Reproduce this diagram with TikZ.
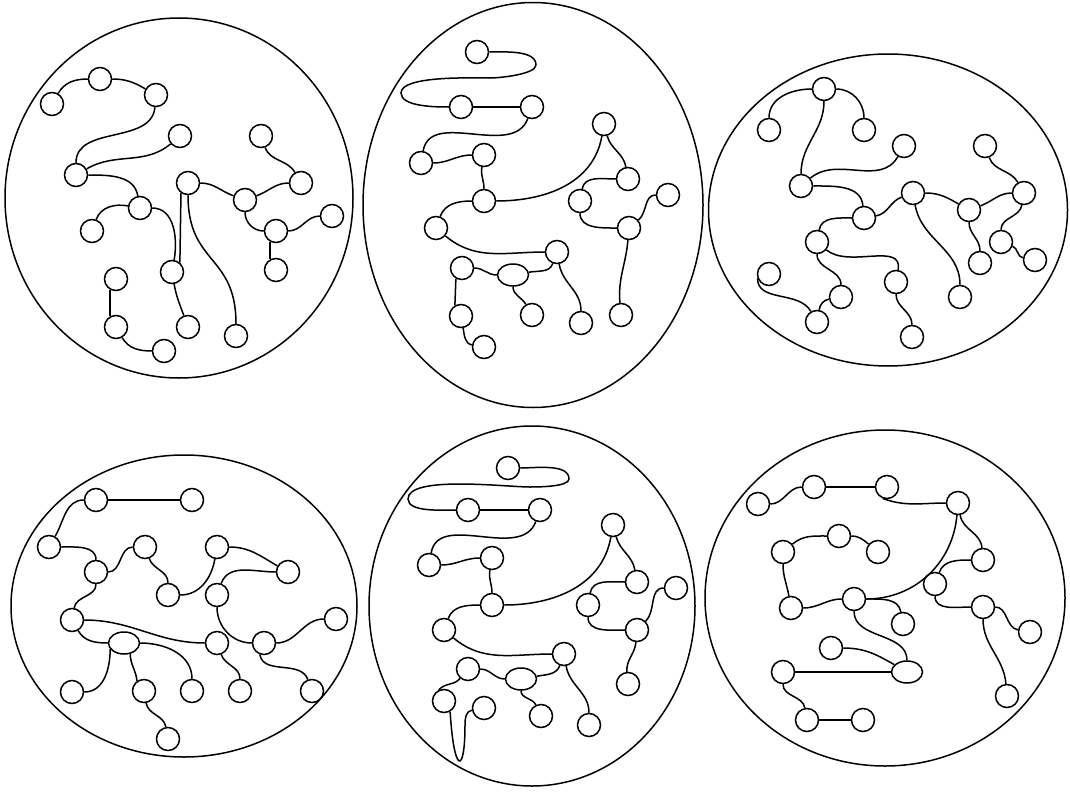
\documentclass[tikz,border=0pt]{standalone}
\usepackage{tikz}
\usetikzlibrary{shapes.geometric}

\begin{document}
\begin{tikzpicture}[x=1pt, y=1pt, line width=1.5pt,
    dot/.style={circle, draw, minimum size=23pt, inner sep=0pt},
    blob/.style={ellipse, draw, minimum width=31pt, minimum height=22pt, inner sep=0pt},
    cell/.style={ellipse, draw, inner sep=0pt},
    link/.style={line width=1.5pt}]

    \useasboundingbox (0,0) rectangle (1070,-792);

    \node [cell, minimum width=348pt, minimum height=360pt] (cell1) at (179,-198) {};
    \node [cell, minimum width=340pt, minimum height=405pt] (cell2) at (533,-205) {};
    \node [cell, minimum width=359pt, minimum height=312pt] (cell3) at (888,-210) {};
    \node [cell, minimum width=346pt, minimum height=302pt] (cell4) at (184,-606) {};
    \node [cell, minimum width=326pt, minimum height=360pt] (cell5) at (532,-606) {};
    \node [cell, minimum width=360pt, minimum height=336pt] (cell6) at (885,-598) {};

    \node [dot] (p1a) at (52,-104) {};
    \node [dot] (p1b) at (100,-79) {};
    \node [dot] (p1c) at (156,-95) {};
    \node [dot] (p1d) at (180,-136) {};
    \node [dot] (p1e) at (76,-175) {};
    \node [dot] (p1f) at (140,-208) {};
    \node [dot] (p1g) at (92,-231) {};
    \node [dot] (p1h) at (188,-183) {};
    \node [dot] (p1i) at (261,-136) {};
    \node [dot] (p1j) at (301,-183) {};
    \node [dot] (p1k) at (245,-200) {};
    \node [dot] (p1l) at (276,-231) {};
    \node [dot] (p1m) at (332,-216) {};
    \node [dot] (p1n) at (276,-270) {};
    \node [dot] (p1o) at (116,-279) {};
    \node [dot] (p1p) at (172,-272) {};
    \node [dot] (p1q) at (116,-327) {};
    \node [dot] (p1r) at (164,-351) {};
    \node [dot] (p1s) at (188,-327) {};
    \node [dot] (p1t) at (236,-336) {};

    \draw [link] (p1a) to[out=60,in=180] (p1b);
    \draw [link] (p1b) to[out=0,in=150] (p1c);
    \draw [link] (p1c) to[out=-95,in=90] (p1e);
    \draw [link] (p1e) to[out=30,in=-140] (p1d);
    \draw [link] (p1e) to[out=0,in=100] (p1f);
    \draw [link] (p1f) to[out=170,in=70] (p1g);
    \draw [link] (p1f) to[out=0,in=80] (p1p);
    \draw [link] (p1h.-125) -- (p1p.50);
    \draw [link] (p1h) to[out=-90,in=90,looseness=1.3] (p1t);
    \draw [link] (p1h) to[out=0,in=160] (p1k);
    \draw [link] (p1k) to[out=20,in=180] (p1j);
    \draw [link] (p1i) to[out=-70,in=120] (p1j);
    \draw [link] (p1k) to[out=-90,in=180] (p1l);
    \draw [link] (p1l) to[out=0,in=180] (p1m);
    \draw [link] (p1l.240) -- (p1n.120);
    \draw [link] (p1o.240) -- (p1q.120);
    \draw [link] (p1q) to[out=-60,in=180] (p1r);
    \draw [link] (p1p) to[out=-80,in=110] (p1s);

    \node [dot] (p2a) at (477,-52) {};
    \node [dot] (p2b) at (461,-107) {};
    \node [dot] (p2c) at (532,-107) {};
    \node [dot] (p2d) at (604,-124) {};
    \node [dot] (p2e) at (421,-163) {};
    \node [dot] (p2f) at (484,-155) {};
    \node [dot] (p2g) at (484,-201) {};
    \node [dot] (p2h) at (628,-179) {};
    \node [dot] (p2i) at (580,-201) {};
    \node [dot] (p2j) at (668,-195) {};
    \node [dot] (p2k) at (436,-228) {};
    \node [dot] (p2l) at (629,-228) {};
    \node [dot] (p2m) at (557,-252) {};
    \node [dot] (p2n) at (462,-268) {};
    \node [blob] (p2o) at (513,-275) {};
    \node [dot] (p2p) at (461,-316) {};
    \node [dot] (p2q) at (532,-315) {};
    \node [dot] (p2r) at (581,-323) {};
    \node [dot] (p2s) at (621,-315) {};
    \node [dot] (p2t) at (484,-347) {};
    \coordinate (p2tr) at (536,-65);
    \coordinate (p2tm) at (490,-78);
    \coordinate (p2tl) at (401,-93);

    \draw [link] (p2a) to[out=0,in=90,looseness=0.8] (p2tr) to[out=-90,in=0,looseness=0.5] (p2tm)
        to[out=180,in=90,looseness=0.5] (p2tl) to[out=-90,in=180,looseness=0.7] (p2b);
    \draw [link] (p2b) -- (p2c);
    \draw [link] (p2c) to[out=-110,in=80] (p2e);
    \draw [link] (p2e) to[out=0,in=180] (p2f);
    \draw [link] (p2f) to[out=-100,in=90] (p2g);
    \draw [link] (p2g) to[out=0,in=-100] (p2d);
    \draw [link] (p2g) to[out=180,in=70] (p2k);
    \draw [link] (p2k) to[out=-40,in=180] (p2m);
    \draw [link] (p2d) to[out=-75,in=100] (p2h);
    \draw [link] (p2h) to[out=180,in=80] (p2i);
    \draw [link] (p2i) to[out=-90,in=180] (p2l);
    \draw [link] (p2l) to[out=40,in=180] (p2j);
    \draw [link] (p2l) to[out=-95,in=95] (p2s);
    \draw [link] (p2m) to[out=-110,in=10] (p2o);
    \draw [link] (p2m) to[out=-80,in=90] (p2r);
    \draw [link] (p2n) to[out=0,in=180] (p2o);
    \draw [link] (p2n.240) -- (p2p.120);
    \draw [link] (p2o) to[out=-90,in=120] (p2q);
    \draw [link] (p2p) to[out=-80,in=170] (p2t);

    \node [dot] (p3a) at (824,-89) {};
    \node [dot] (p3b) at (769,-130) {};
    \node [dot] (p3c) at (864,-130) {};
    \node [dot] (p3d) at (904,-146) {};
    \node [dot] (p3e) at (801,-186) {};
    \node [dot] (p3f) at (864,-218) {};
    \node [dot] (p3g) at (913,-193) {};
    \node [dot] (p3h) at (985,-146) {};
    \node [dot] (p3i) at (1024,-193) {};
    \node [dot] (p3j) at (969,-210) {};
    \node [dot] (p3k) at (817,-242) {};
    \node [dot] (p3l) at (1001,-242) {};
    \node [dot] (p3m) at (980,-263) {};
    \node [dot] (p3n) at (1035,-260) {};
    \node [dot] (p3o) at (769,-274) {};
    \node [dot] (p3p) at (841,-297) {};
    \node [dot] (p3q) at (896,-282) {};
    \node [dot] (p3r) at (960,-297) {};
    \node [dot] (p3s) at (817,-322) {};
    \node [dot] (p3t) at (912,-337) {};

    \draw [link] (p3a) to[out=180,in=90] (p3b);
    \draw [link] (p3a) to[out=0,in=90] (p3c);
    \draw [link] (p3a) to[out=-90,in=90] (p3e);
    \draw [link] (p3e) to[out=40,in=-120] (p3d);
    \draw [link] (p3e) to[out=0,in=95] (p3f);
    \draw [link] (p3f) to[out=10,in=200] (p3g);
    \draw [link] (p3f) to[out=180,in=80] (p3k);
    \draw [link] (p3g) to[out=0,in=150] (p3j);
    \draw [link] (p3j) to[out=20,in=180] (p3i);
    \draw [link] (p3h) to[out=-70,in=120] (p3i);
    \draw [link] (p3i) to[out=-100,in=90] (p3l);
    \draw [link] (p3l) to[out=-20,in=170] (p3n);
    \draw [link] (p3j) to[out=-90,in=90] (p3m);
    \draw [link] (p3g) to[out=-80,in=90] (p3r);
    \draw [link] (p3k) to[out=-40,in=80] (p3q);
    \draw [link] (p3k) to[out=-90,in=90] (p3p);
    \draw [link] (p3q) to[out=-90,in=90] (p3t);
    \draw [link] (p3o.200) to[out=-90,in=120] (p3s);
    \draw [link] (p3s) to[out=80,in=190] (p3p);

    \node [dot] (p4a) at (96,-500) {};
    \node [dot] (p4b) at (192,-500) {};
    \node [dot] (p4c) at (49,-547) {};
    \node [dot] (p4d) at (145,-547) {};
    \node [dot] (p4e) at (217,-547) {};
    \node [dot] (p4f) at (96,-572) {};
    \node [dot] (p4g) at (288,-572) {};
    \node [dot] (p4h) at (168,-595) {};
    \node [dot] (p4i) at (217,-595) {};
    \node [dot] (p4j) at (72,-620) {};
    \node [dot] (p4k) at (336,-619) {};
    \node [blob] (p4l) at (124,-643) {};
    \node [dot] (p4m) at (217,-643) {};
    \node [dot] (p4n) at (264,-643) {};
    \node [dot] (p4o) at (72,-692) {};
    \node [dot] (p4p) at (144,-691) {};
    \node [dot] (p4q) at (192,-691) {};
    \node [dot] (p4r) at (240,-691) {};
    \node [dot] (p4s) at (312,-691) {};
    \node [dot] (p4t) at (168,-739) {};

    \draw [link] (p4a) -- (p4b);
    \draw [link] (p4a) to[out=180,in=60] (p4c);
    \draw [link] (p4c) to[out=0,in=90] (p4f);
    \draw [link] (p4f) to[out=0,in=180] (p4d);
    \draw [link] (p4d) to[out=-70,in=90] (p4h);
    \draw [link] (p4h) to[out=0,in=-100] (p4e);
    \draw [link] (p4e) to[out=0,in=150] (p4g);
    \draw [link] (p4g) to[out=180,in=70] (p4i);
    \draw [link] (p4f) to[out=-90,in=80] (p4j);
    \draw [link] (p4j) to[out=0,in=180] (p4m);
    \draw [link] (p4j) to[out=-60,in=180] (p4l);
    \draw [link] (p4l.204) to[out=-90,in=0] (p4o);
    \draw [link] (p4l.-60) to[out=-90,in=95] (p4p.125);
    \draw [link] (p4l) to[out=0,in=90] (p4q);
    \draw [link] (p4m) to[out=-70,in=90] (p4r);
    \draw [link] (p4i) to[out=-90,in=180] (p4n);
    \draw [link] (p4n) to[out=0,in=180] (p4k);
    \draw [link] (p4n.-110) to[out=-80,in=110] (p4s);
    \draw [link] (p4p) to[out=-80,in=100] (p4t);

    \node [dot] (p5a) at (508,-468) {};
    \node [dot] (p5b) at (468,-510) {};
    \node [dot] (p5c) at (540,-510) {};
    \node [dot] (p5d) at (613,-525) {};
    \node [dot] (p5e) at (429,-565) {};
    \node [dot] (p5f) at (492,-558) {};
    \node [dot] (p5g) at (492,-605) {};
    \node [dot] (p5h) at (637,-582) {};
    \node [dot] (p5i) at (588,-605) {};
    \node [dot] (p5j) at (676,-588) {};
    \node [dot] (p5k) at (444,-630) {};
    \node [dot] (p5l) at (637,-630) {};
    \node [dot] (p5m) at (564,-654) {};
    \node [dot] (p5n) at (468,-669) {};
    \node [blob] (p5o) at (521,-679) {};
    \node [dot] (p5p) at (444,-701) {};
    \node [dot] (p5q) at (484,-708) {};
    \node [dot] (p5r) at (541,-716) {};
    \node [dot] (p5s) at (589,-725) {};
    \node [dot] (p5t) at (628,-684) {};
    \coordinate (p5tr) at (569,-479);
    \coordinate (p5tm) at (530,-487);
    \coordinate (p5tl) at (408,-499);

    \draw [link] (p5a) to[out=0,in=90,looseness=0.8] (p5tr) to[out=-90,in=0,looseness=0.5] (p5tm)
        to[out=180,in=90,looseness=0.5] (p5tl) to[out=-90,in=180,looseness=0.7] (p5b);
    \draw [link] (p5b) -- (p5c);
    \draw [link] (p5c) to[out=-110,in=80] (p5e);
    \draw [link] (p5e) to[out=0,in=180] (p5f);
    \draw [link] (p5f) to[out=-100,in=90] (p5g);
    \draw [link] (p5g) to[out=0,in=-100] (p5d);
    \draw [link] (p5g) to[out=180,in=70] (p5k);
    \draw [link] (p5k) to[out=-40,in=180] (p5m);
    \draw [link] (p5d) to[out=-75,in=100] (p5h);
    \draw [link] (p5h) to[out=180,in=80] (p5i);
    \draw [link] (p5i) to[out=-90,in=180] (p5l);
    \draw [link] (p5l) to[out=45,in=180] (p5j);
    \draw [link] (p5l) to[out=-95,in=95] (p5t);
    \draw [link] (p5m) to[out=-110,in=10] (p5o);
    \draw [link] (p5m) to[out=-80,in=90] (p5s);
    \draw [link] (p5n) to[out=0,in=180] (p5o);
    \draw [link] (p5o) to[out=-90,in=115] (p5r);
    \draw [link] (p5n) to[out=-130,in=50] (p5p.115);
    \draw [link] (p5p.-60) .. controls (454,-775) and (465,-775) .. (465,-725) to[out=90,in=190] (p5q);

    \node [dot] (p6a) at (758,-504) {};
    \node [dot] (p6b) at (814,-487) {};
    \node [dot] (p6c) at (887,-487) {};
    \node [dot] (p6d) at (958,-503) {};
    \node [dot] (p6e) at (839,-536) {};
    \node [dot] (p6f) at (783,-552) {};
    \node [dot] (p6g) at (878,-552) {};
    \node [dot] (p6h) at (983,-560) {};
    \node [dot] (p6i) at (935,-584) {};
    \node [dot] (p6j) at (791,-608) {};
    \node [dot] (p6k) at (854,-599) {};
    \node [dot] (p6l) at (983,-607) {};
    \node [dot] (p6m) at (903,-624) {};
    \node [dot] (p6n) at (1030,-632) {};
    \node [dot] (p6o) at (831,-648) {};
    \node [blob] (p6p) at (907,-672) {};
    \node [dot] (p6q) at (783,-672) {};
    \node [dot] (p6r) at (1007,-696) {};
    \node [dot] (p6s) at (807,-720) {};
    \node [dot] (p6t) at (863,-720) {};

    \draw [link] (p6a) to[out=0,in=180] (p6b);
    \draw [link] (p6b) -- (p6c);
    \draw [link] (p6c.-110) to[out=-20,in=180] (p6d);
    \draw [link] (p6d) to[out=-95,in=0] (p6k);
    \draw [link] (p6d) to[out=-80,in=95] (p6h);
    \draw [link] (p6h) to[out=180,in=70] (p6i);
    \draw [link] (p6i) to[out=-90,in=180] (p6l);
    \draw [link] (p6l) to[out=0,in=170] (p6n);
    \draw [link] (p6l) to[out=-90,in=95] (p6r);
    \draw [link] (p6f) to[out=40,in=180] (p6e);
    \draw [link] (p6e) to[out=0,in=140] (p6g);
    \draw [link] (p6f) to[out=-90,in=100] (p6j);
    \draw [link] (p6j) to[out=0,in=180] (p6k);
    \draw [link] (p6k) to[out=0,in=100] (p6m);
    \draw [link] (p6k) to[out=-90,in=90] (p6p);
    \draw [link] (p6o) to[out=0,in=150] (p6p);
    \draw [link] (p6q) -- (p6p);
    \draw [link] (p6q) to[out=-90,in=100] (p6s);
    \draw [link] (p6s) -- (p6t);
\end{tikzpicture}
\end{document}
